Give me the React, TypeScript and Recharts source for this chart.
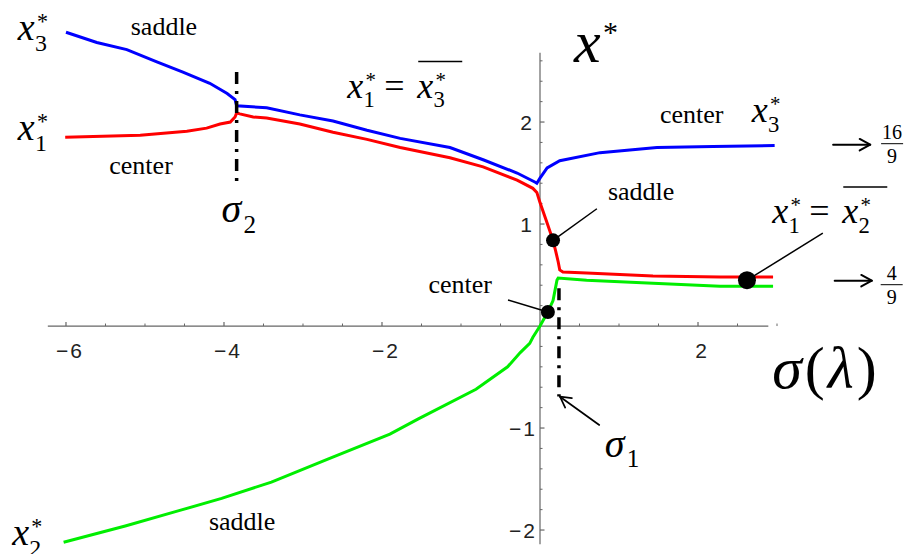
import React from 'react';
import { ComposedChart, Line, XAxis, YAxis, ReferenceLine, ReferenceDot } from 'recharts';

const SERIF = "'Liberation Serif', 'Times New Roman', Times, serif";
const SANS = "'Liberation Sans', Arial, sans-serif";
const AXIS = '#666';
const INK = '#000';

const WIDTH = 906;
const HEIGHT = 546;
const X_DOMAIN: [number, number] = [-6.734, 4.734];
const Y_DOMAIN: [number, number] = [-2.235, 3.118];
// pixels per unit, used for tick lengths
const UX = WIDTH / (X_DOMAIN[1] - X_DOMAIN[0]);
const UY = HEIGHT / (Y_DOMAIN[1] - Y_DOMAIN[0]);

// x3* branch (blue)
const blueSigma = [-6.0, -5.61, -5.23, -4.85, -4.52, -4.18, -3.96, -3.86, -3.84, -3.46, -3.04, -2.62, -2.19, -1.77, -1.14, -0.72, -0.29, -0.06, -0.04, 0.0, 0.09, 0.25, 0.76, 1.48, 2.19, 2.97];
const blueRoot = [2.88, 2.78, 2.71, 2.59, 2.49, 2.38, 2.28, 2.22, 2.16, 2.14, 2.07, 2.01, 1.92, 1.84, 1.75, 1.63, 1.5, 1.41, 1.4, 1.45, 1.55, 1.62, 1.7, 1.75, 1.76, 1.77];

// x1* branch (red)
const redSigma = [-6.01, -5.06, -4.47, -4.22, -4.05, -3.92, -3.86, -3.84, -3.8, -3.63, -3.46, -3.04, -2.62, -2.19, -1.77, -1.14, -0.72, -0.29, -0.09, -0.04, 0.0, 0.09, 0.165, 0.2, 0.23, 0.25, 0.29, 0.59, 1.43, 2.28, 2.95];
const redRoot = [1.85, 1.87, 1.91, 1.94, 1.98, 2.0, 2.05, 2.09, 2.08, 2.05, 2.04, 1.98, 1.9, 1.83, 1.75, 1.65, 1.56, 1.43, 1.35, 1.31, 1.21, 1.01, 0.84, 0.73, 0.63, 0.55, 0.53, 0.52, 0.49, 0.48, 0.48];

// x2* branch (green)
const greenSigma = [-6.03, -5.25, -4.57, -4.03, -3.4, -2.67, -1.9, -1.54, -0.81, -0.41, -0.25, -0.13, -0.09, 0.0, 0.1, 0.165, 0.215, 0.23, 0.59, 1.43, 2.28, 2.95];
const greenRoot = [-2.12, -1.96, -1.81, -1.69, -1.53, -1.3, -1.06, -0.91, -0.62, -0.4, -0.26, -0.17, -0.11, 0.0, 0.14, 0.25, 0.45, 0.47, 0.45, 0.42, 0.39, 0.39];

const xMajorTicks = [-6, -4, -2, 2];
const xMinorTicks = [-5.5, -5, -4.5, -3.5, -3, -2.5, -1.5, -1, -0.5, 0.5, 1, 1.5, 2.5, 3];
const yMajorTicks = [-2, -1, 1, 2];
const yMinorTicks = [-1.8, -1.6, -1.4, -1.2, -0.8, -0.6, -0.4, -0.2, 0.2, 0.4, 0.6, 0.8, 1.2, 1.4, 1.6, 1.8, 2.2, 2.4, 2.6];

const sigma1 = 0.24;
const sigma2 = -3.84;
const limitHigh = 16 / 9;
const limitLow = 4 / 9;

// marked equilibria: center, saddle, and the x1* = conj(x2*) point
const markedSigma = [0.1, 0.165, 2.62];
const markedRoot = [0.137, 0.84, 0.45];
const markedRadius = [7, 7, 9];

const toPoints = (xs: number[], ys: number[]) => xs.map((x, i) => ({ x, y: ys[i] }));

type P = { cx?: number; cy?: number };

function note(key: string, x: number, y: number, draw: (cx: number, cy: number) => React.ReactElement) {
  return (
    <ReferenceDot
      key={key}
      x={x}
      y={y}
      r={0}
      shape={(p: P) => draw(p.cx ?? 0, p.cy ?? 0)}
    />
  );
}

const serif = (size: number, italic = false): React.CSSProperties => ({
  fontFamily: SERIF,
  fontSize: size,
  fontStyle: italic ? 'italic' : 'normal',
});

// italic symbol with optional sub/superscript and overbar, left baseline at (x, y)
function Sym({ x, y, base, sub, sup, size, adv, bar }: {
  x: number; y: number; base: string; sub?: string; sup?: string; size: number; adv?: number; bar?: boolean;
}) {
  const a = adv ?? size * 0.45;
  return (
    <g fill={INK}>
      <text x={x} y={y} style={serif(size, true)}>{base}</text>
      {sub && <text x={x + a} y={y + size * 0.27} style={serif(size * 0.63)}>{sub}</text>}
      {sup && <text x={x + a + 2} y={y - size * 0.3} style={serif(size * 0.58)}>{sup}</text>}
      {bar && <line x1={x + 1} x2={x + a + size * 0.8} y1={y - size} y2={y - size} stroke={INK} strokeWidth={1.6} />}
    </g>
  );
}

function Word({ x, y, text, size = 26 }: { x: number; y: number; text: string; size?: number }) {
  return <text x={x} y={y} style={serif(size)} textAnchor="middle" fill={INK}>{text}</text>;
}

function Equal({ x, y, a, b }: { x: number; y: number; a: string; b: string }) {
  return (
    <g>
      <Sym x={x} y={y} base="x" sub={a} sup="*" size={36} />
      <text x={x + 37} y={y} style={serif(36)} fill={INK}>=</text>
      <Sym x={x + 70} y={y} base="x" sub={b} sup="*" size={36} bar />
    </g>
  );
}

function Fraction({ x, y, top, bottom }: { x: number; y: number; top: string; bottom: string }) {
  return (
    <g fill={INK} textAnchor="middle">
      <text x={x} y={y - 5} style={serif(20)}>{top}</text>
      <line x1={x - 11} x2={x + 11} y1={y} y2={y} stroke={INK} strokeWidth={1} />
      <text x={x} y={y + 19} style={serif(20)}>{bottom}</text>
    </g>
  );
}

function arrowShape(head: number, width: number) {
  return (p: any) => {
    const { x1, y1, x2, y2 } = p;
    const ang = Math.atan2(y2 - y1, x2 - x1);
    const s = 0.5;
    const hx1 = x2 - head * Math.cos(ang - s);
    const hy1 = y2 - head * Math.sin(ang - s);
    const hx2 = x2 - head * Math.cos(ang + s);
    const hy2 = y2 - head * Math.sin(ang + s);
    return (
      <g stroke={INK} strokeWidth={width} fill="none" strokeLinecap="round" strokeLinejoin="round">
        <line x1={x1} y1={y1} x2={x2} y2={y2} />
        <polyline points={`${hx1},${hy1} ${x2},${y2} ${hx2},${hy2}`} />
      </g>
    );
  };
}

export default function App() {
  const blue = toPoints(blueSigma, blueRoot);
  const red = toPoints(redSigma, redRoot);
  const green = toPoints(greenSigma, greenRoot);

  return (
    <div style={{ width: WIDTH, height: HEIGHT }}>
      <ComposedChart width={WIDTH} height={HEIGHT} margin={{ top: 0, right: 0, bottom: 0, left: 0 }}>
        <XAxis type="number" dataKey="x" domain={X_DOMAIN} allowDataOverflow hide />
        <YAxis type="number" domain={Y_DOMAIN} allowDataOverflow hide />

        {/* axes crossing at the origin */}
        <ReferenceLine segment={[{ x: -6.23, y: 0 }, { x: 2.89, y: 0 }]} stroke={AXIS} strokeWidth={1.2} />
        <ReferenceLine segment={[{ x: 0, y: -2.14 }, { x: 0, y: 2.68 }]} stroke={AXIS} strokeWidth={1.2} />
        {xMajorTicks.map((t) => (
          <ReferenceLine key={`xM${t}`} segment={[{ x: t, y: 0 }, { x: t, y: 4 / UY }]} stroke={AXIS} strokeWidth={1.2} />
        ))}
        {xMinorTicks.map((t) => (
          <ReferenceLine key={`xm${t}`} segment={[{ x: t, y: 0 }, { x: t, y: 2.5 / UY }]} stroke={AXIS} strokeWidth={1} />
        ))}
        {yMajorTicks.map((t) => (
          <ReferenceLine key={`yM${t}`} segment={[{ x: 0, y: t }, { x: 4.5 / UX, y: t }]} stroke={AXIS} strokeWidth={1.2} />
        ))}
        {yMinorTicks.map((t) => (
          <ReferenceLine key={`ym${t}`} segment={[{ x: 0, y: t }, { x: 2.5 / UX, y: t }]} stroke={AXIS} strokeWidth={1} />
        ))}
        {xMajorTicks.map((t) =>
          note(`xl${t}`, t, 0, (cx, cy) => (
            <text x={cx + 4} y={cy + 32} style={{ fontFamily: SANS, fontSize: 21, letterSpacing: 2 }} textAnchor="middle" fill="#222">
              {t < 0 ? `\u2212${-t}` : `${t}`}
            </text>
          ))
        )}
        {yMajorTicks.map((t) =>
          note(`yl${t}`, 0, t, (cx, cy) => (
            <text x={cx - (t < 0 ? 3 : 6)} y={cy + 8} style={{ fontFamily: SANS, fontSize: 21, letterSpacing: 2 }} textAnchor="end" fill="#222">
              {t < 0 ? `\u2212${-t}` : `${t}`}
            </text>
          ))
        )}

        <Line data={blue} dataKey="y" type="linear" stroke="#0000ff" strokeWidth={3} dot={false} isAnimationActive={false} />
        <Line data={red} dataKey="y" type="linear" stroke="#ff0000" strokeWidth={3} dot={false} isAnimationActive={false} />
        <Line data={green} dataKey="y" type="linear" stroke="#00ee00" strokeWidth={3} dot={false} isAnimationActive={false} />

        {/* bifurcation values */}
        <ReferenceLine segment={[{ x: sigma2, y: 2.49 }, { x: sigma2, y: 1.38 }]} stroke={INK} strokeWidth={3.5} strokeDasharray="12 7 3 7" />
        <ReferenceLine segment={[{ x: sigma1, y: 0.37 }, { x: sigma1, y: -0.69 }]} stroke={INK} strokeWidth={3.5} strokeDasharray="12 7 3 7" />

        {/* callouts */}
        <ReferenceLine segment={[{ x: markedSigma[1], y: markedRoot[1] }, { x: 0.72, y: 1.15 }]} stroke={INK} strokeWidth={1.5} />
        <ReferenceLine segment={[{ x: -0.405, y: 0.255 }, { x: markedSigma[0], y: markedRoot[0] }]} stroke={INK} strokeWidth={1.5} />
        <ReferenceLine segment={[{ x: markedSigma[2], y: markedRoot[2] }, { x: 3.58, y: 0.91 }]} stroke={INK} strokeWidth={1.5} />
        <ReferenceLine segment={[{ x: 0.75, y: -0.97 }, { x: 0.253, y: -0.693 }]} shape={arrowShape(12, 1.7)} />
        <ReferenceLine segment={[{ x: 3.71, y: limitHigh }, { x: 4.18, y: limitHigh }]} shape={arrowShape(12, 2)} />
        <ReferenceLine segment={[{ x: 3.73, y: limitLow }, { x: 4.2, y: limitLow }]} shape={arrowShape(12, 2)} />

        {markedSigma.map((s, i) => (
          <ReferenceDot key={`dot${i}`} x={s} y={markedRoot[i]} r={markedRadius[i]} fill={INK} stroke="none" />
        ))}

        {note('x3L', -6.61, 2.8, (cx, cy) => <Sym x={cx} y={cy} base="x" sub="3" sup="*" size={38} />)}
        {note('x1L', -6.61, 1.82, (cx, cy) => <Sym x={cx} y={cy} base="x" sub="1" sup="*" size={38} />)}
        {note('x2L', -6.68, -2.15, (cx, cy) => <Sym x={cx} y={cy} base="x" sub="2" sup="*" size={38} />)}
        {note('sadTL', -4.76, 2.85, (cx, cy) => <Word x={cx} y={cy} text="saddle" />)}
        {note('cenL', -5.05, 1.49, (cx, cy) => <Word x={cx} y={cy} text="center" />)}
        {note('sadB', -3.77, -2.0, (cx, cy) => <Word x={cx} y={cy} text="saddle" />)}
        {note('sadM', 1.28, 1.24, (cx, cy) => <Word x={cx} y={cy} text="saddle" />)}
        {note('cenM', -1.01, 0.32, (cx, cy) => <Word x={cx} y={cy} text="center" />)}
        {note('cenR', 1.92, 1.99, (cx, cy) => <Word x={cx} y={cy} text="center" />)}
        {note('x3R', 2.68, 2.0, (cx, cy) => <Sym x={cx} y={cy} base="x" sub="3" sup="*" size={36} />)}
        {note('eq13', -2.44, 2.24, (cx, cy) => <Equal x={cx} y={cy} a="1" b="3" />)}
        {note('eq12', 2.94, 1.01, (cx, cy) => <Equal x={cx} y={cy} a="1" b="2" />)}
        {note('xstar', 0.43, 2.59, (cx, cy) => (
          <g fill={INK}>
            <text x={cx} y={cy} style={serif(60, true)}>x</text>
            <text x={cx + 29} y={cy - 20} style={serif(30)}>*</text>
          </g>
        ))}
        {note('s2', sigma2 - 0.19, 1.02, (cx, cy) => <Sym x={cx} y={cy} base={'\u03c3'} sub="2" size={40} adv={22} />)}
        {note('s1', 0.82, -1.28, (cx, cy) => <Sym x={cx} y={cy} base={'\u03c3'} sub="1" size={40} adv={22} />)}
        {note('slam', 2.94, -0.61, (cx, cy) => (
          <text x={cx} y={cy} style={{ ...serif(60), letterSpacing: 3 }} fill={INK}>
            <tspan fontStyle="italic">{'\u03c3'}</tspan>
            <tspan>(</tspan>
            <tspan fontStyle="italic">{'\u03bb'}</tspan>
            <tspan>)</tspan>
          </text>
        ))}
        {note('f169', 3.71, limitHigh, (cx, cy) => <Fraction x={cx + 59} y={cy - 1} top="16" bottom="9" />)}
        {note('f49', 3.73, limitLow, (cx, cy) => <Fraction x={cx + 57} y={cy + 4} top="4" bottom="9" />)}
      </ComposedChart>
    </div>
  );
}
